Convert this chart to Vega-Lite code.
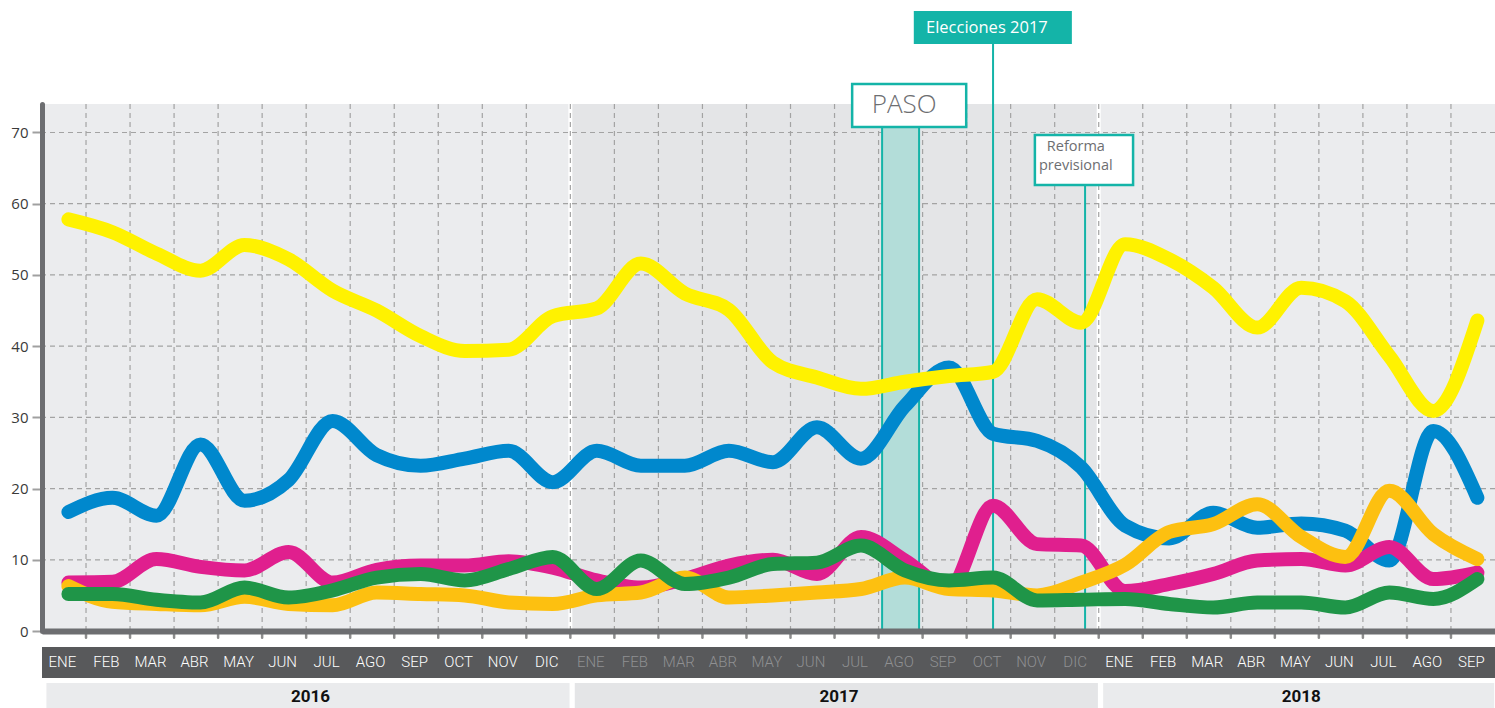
{
  "$schema": "https://vega.github.io/schema/vega-lite/v6.json",
  "width": 1453,
  "height": 527,
  "autosize": {"type": "none"},
  "padding": {"left": 42, "top": 104, "right": 0, "bottom": 77},
  "background": "#ffffff",
  "config": {
    "view": {"stroke": null},
    "axisY": {"tickCount": 8, "labelFont": "Open Sans", "labelFontSize": 15, "labelColor": "#3a3a3a", "tickColor": "#a0a0a0", "tickSize": 10, "tickWidth": 2, "domainColor": "#6d6e71", "domainWidth": 5, "domainCap": "round", "labelPadding": 4, "zindex": 1, "grid": false},
    "axisX": {"labels": false, "ticks": false, "grid": false, "domainColor": "#6d6e71", "domainWidth": 6, "zindex": 1}
  },
  "datasets": {
    "meses": [
      {"m": 0, "mes": "ENE", "anio": "2016"}, {"m": 1, "mes": "FEB", "anio": "2016"}, {"m": 2, "mes": "MAR", "anio": "2016"}, {"m": 3, "mes": "ABR", "anio": "2016"}, {"m": 4, "mes": "MAY", "anio": "2016"}, {"m": 5, "mes": "JUN", "anio": "2016"}, {"m": 6, "mes": "JUL", "anio": "2016"}, {"m": 7, "mes": "AGO", "anio": "2016"}, {"m": 8, "mes": "SEP", "anio": "2016"}, {"m": 9, "mes": "OCT", "anio": "2016"}, {"m": 10, "mes": "NOV", "anio": "2016"}, {"m": 11, "mes": "DIC", "anio": "2016"},
      {"m": 12, "mes": "ENE", "anio": "2017"}, {"m": 13, "mes": "FEB", "anio": "2017"}, {"m": 14, "mes": "MAR", "anio": "2017"}, {"m": 15, "mes": "ABR", "anio": "2017"}, {"m": 16, "mes": "MAY", "anio": "2017"}, {"m": 17, "mes": "JUN", "anio": "2017"}, {"m": 18, "mes": "JUL", "anio": "2017"}, {"m": 19, "mes": "AGO", "anio": "2017"}, {"m": 20, "mes": "SEP", "anio": "2017"}, {"m": 21, "mes": "OCT", "anio": "2017"}, {"m": 22, "mes": "NOV", "anio": "2017"}, {"m": 23, "mes": "DIC", "anio": "2017"},
      {"m": 24, "mes": "ENE", "anio": "2018"}, {"m": 25, "mes": "FEB", "anio": "2018"}, {"m": 26, "mes": "MAR", "anio": "2018"}, {"m": 27, "mes": "ABR", "anio": "2018"}, {"m": 28, "mes": "MAY", "anio": "2018"}, {"m": 29, "mes": "JUN", "anio": "2018"}, {"m": 30, "mes": "JUL", "anio": "2018"}, {"m": 31, "mes": "AGO", "anio": "2018"}, {"m": 32, "mes": "SEP", "anio": "2018"}
    ],
    "encuesta": [
      {"m":0,"serie":"Azul","v":16.7},{"m":1,"serie":"Azul","v":18.7},{"m":2,"serie":"Azul","v":16.2},{"m":3,"serie":"Azul","v":26.2},{"m":4,"serie":"Azul","v":18.3},{"m":5,"serie":"Azul","v":21.2},{"m":6,"serie":"Azul","v":29.5},{"m":7,"serie":"Azul","v":24.7},{"m":8,"serie":"Azul","v":23.2},{"m":9,"serie":"Azul","v":24.2},{"m":10,"serie":"Azul","v":25.3},{"m":11,"serie":"Azul","v":20.9},{"m":12,"serie":"Azul","v":25.3},{"m":13,"serie":"Azul","v":23.2},{"m":14,"serie":"Azul","v":23.2},{"m":15,"serie":"Azul","v":25.3},{"m":16,"serie":"Azul","v":23.7},{"m":17,"serie":"Azul","v":28.6},{"m":18,"serie":"Azul","v":24.2},{"m":19,"serie":"Azul","v":31.6},{"m":20,"serie":"Azul","v":37.0},{"m":21,"serie":"Azul","v":27.7},{"m":22,"serie":"Azul","v":26.7},{"m":23,"serie":"Azul","v":23.0},{"m":24,"serie":"Azul","v":14.8},{"m":25,"serie":"Azul","v":13.0},{"m":26,"serie":"Azul","v":16.6},{"m":27,"serie":"Azul","v":14.5},{"m":28,"serie":"Azul","v":15.1},{"m":29,"serie":"Azul","v":14.1},{"m":30,"serie":"Azul","v":9.9},{"m":31,"serie":"Azul","v":28.1},{"m":32,"serie":"Azul","v":18.7},
      {"m":0,"serie":"Amarillo","v":57.8},{"m":1,"serie":"Amarillo","v":56.0},{"m":2,"serie":"Amarillo","v":53.0},{"m":3,"serie":"Amarillo","v":50.6},{"m":4,"serie":"Amarillo","v":54.2},{"m":5,"serie":"Amarillo","v":52.2},{"m":6,"serie":"Amarillo","v":47.8},{"m":7,"serie":"Amarillo","v":45.0},{"m":8,"serie":"Amarillo","v":41.4},{"m":9,"serie":"Amarillo","v":39.3},{"m":10,"serie":"Amarillo","v":39.5},{"m":11,"serie":"Amarillo","v":44.2},{"m":12,"serie":"Amarillo","v":45.3},{"m":13,"serie":"Amarillo","v":51.6},{"m":14,"serie":"Amarillo","v":47.4},{"m":15,"serie":"Amarillo","v":45.1},{"m":16,"serie":"Amarillo","v":37.7},{"m":17,"serie":"Amarillo","v":35.6},{"m":18,"serie":"Amarillo","v":34.0},{"m":19,"serie":"Amarillo","v":35.0},{"m":20,"serie":"Amarillo","v":35.8},{"m":21,"serie":"Amarillo","v":36.4},{"m":22,"serie":"Amarillo","v":46.6},{"m":23,"serie":"Amarillo","v":43.3},{"m":24,"serie":"Amarillo","v":54.3},{"m":25,"serie":"Amarillo","v":52.2},{"m":26,"serie":"Amarillo","v":48.2},{"m":27,"serie":"Amarillo","v":42.6},{"m":28,"serie":"Amarillo","v":48.2},{"m":29,"serie":"Amarillo","v":46.3},{"m":30,"serie":"Amarillo","v":38.6},{"m":31,"serie":"Amarillo","v":30.9},{"m":32,"serie":"Amarillo","v":43.6},
      {"m":0,"serie":"Magenta","v":6.8},{"m":1,"serie":"Magenta","v":6.9},{"m":2,"serie":"Magenta","v":10.1},{"m":3,"serie":"Magenta","v":9.0},{"m":4,"serie":"Magenta","v":8.5},{"m":5,"serie":"Magenta","v":11.1},{"m":6,"serie":"Magenta","v":6.8},{"m":7,"serie":"Magenta","v":8.6},{"m":8,"serie":"Magenta","v":9.2},{"m":9,"serie":"Magenta","v":9.2},{"m":10,"serie":"Magenta","v":9.8},{"m":11,"serie":"Magenta","v":8.9},{"m":12,"serie":"Magenta","v":7.1},{"m":13,"serie":"Magenta","v":6.1},{"m":14,"serie":"Magenta","v":7.3},{"m":15,"serie":"Magenta","v":9.2},{"m":16,"serie":"Magenta","v":10.0},{"m":17,"serie":"Magenta","v":8.0},{"m":18,"serie":"Magenta","v":13.2},{"m":19,"serie":"Magenta","v":9.9},{"m":20,"serie":"Magenta","v":6.1},{"m":21,"serie":"Magenta","v":17.6},{"m":22,"serie":"Magenta","v":12.2},{"m":23,"serie":"Magenta","v":12.0},{"m":24,"serie":"Magenta","v":5.6},{"m":25,"serie":"Magenta","v":6.6},{"m":26,"serie":"Magenta","v":8.0},{"m":27,"serie":"Magenta","v":9.9},{"m":28,"serie":"Magenta","v":10.1},{"m":29,"serie":"Magenta","v":9.2},{"m":30,"serie":"Magenta","v":11.8},{"m":31,"serie":"Magenta","v":7.3},{"m":32,"serie":"Magenta","v":8.2},
      {"m":0,"serie":"Naranja","v":6.3},{"m":1,"serie":"Naranja","v":4.1},{"m":2,"serie":"Naranja","v":3.8},{"m":3,"serie":"Naranja","v":3.6},{"m":4,"serie":"Naranja","v":4.8},{"m":5,"serie":"Naranja","v":3.8},{"m":6,"serie":"Naranja","v":3.6},{"m":7,"serie":"Naranja","v":5.4},{"m":8,"serie":"Naranja","v":5.2},{"m":9,"serie":"Naranja","v":5.0},{"m":10,"serie":"Naranja","v":4.0},{"m":11,"serie":"Naranja","v":3.8},{"m":12,"serie":"Naranja","v":5.0},{"m":13,"serie":"Naranja","v":5.4},{"m":14,"serie":"Naranja","v":7.5},{"m":15,"serie":"Naranja","v":4.7},{"m":16,"serie":"Naranja","v":5.0},{"m":17,"serie":"Naranja","v":5.4},{"m":18,"serie":"Naranja","v":5.9},{"m":19,"serie":"Naranja","v":7.5},{"m":20,"serie":"Naranja","v":5.9},{"m":21,"serie":"Naranja","v":5.7},{"m":22,"serie":"Naranja","v":5.0},{"m":23,"serie":"Naranja","v":6.8},{"m":24,"serie":"Naranja","v":9.3},{"m":25,"serie":"Naranja","v":13.9},{"m":26,"serie":"Naranja","v":15.0},{"m":27,"serie":"Naranja","v":17.8},{"m":28,"serie":"Naranja","v":13.2},{"m":29,"serie":"Naranja","v":10.4},{"m":30,"serie":"Naranja","v":19.7},{"m":31,"serie":"Naranja","v":13.6},{"m":32,"serie":"Naranja","v":10.1},
      {"m":0,"serie":"Verde","v":5.2},{"m":1,"serie":"Verde","v":5.2},{"m":2,"serie":"Verde","v":4.4},{"m":3,"serie":"Verde","v":4.0},{"m":4,"serie":"Verde","v":6.1},{"m":5,"serie":"Verde","v":4.7},{"m":6,"serie":"Verde","v":5.7},{"m":7,"serie":"Verde","v":7.5},{"m":8,"serie":"Verde","v":8.0},{"m":9,"serie":"Verde","v":7.1},{"m":10,"serie":"Verde","v":8.7},{"m":11,"serie":"Verde","v":10.4},{"m":12,"serie":"Verde","v":5.9},{"m":13,"serie":"Verde","v":9.9},{"m":14,"serie":"Verde","v":6.6},{"m":15,"serie":"Verde","v":7.5},{"m":16,"serie":"Verde","v":9.4},{"m":17,"serie":"Verde","v":9.6},{"m":18,"serie":"Verde","v":12.0},{"m":19,"serie":"Verde","v":8.5},{"m":20,"serie":"Verde","v":7.1},{"m":21,"serie":"Verde","v":7.5},{"m":22,"serie":"Verde","v":4.3},{"m":23,"serie":"Verde","v":4.4},{"m":24,"serie":"Verde","v":4.5},{"m":25,"serie":"Verde","v":3.8},{"m":26,"serie":"Verde","v":3.3},{"m":27,"serie":"Verde","v":4.0},{"m":28,"serie":"Verde","v":4.0},{"m":29,"serie":"Verde","v":3.3},{"m":30,"serie":"Verde","v":5.4},{"m":31,"serie":"Verde","v":4.5},{"m":32,"serie":"Verde","v":7.3}
    ]
  },
  "layer": [
    {
      "data": {"name": "meses"},
      "transform": [{"aggregate": [{"op": "min", "field": "m", "as": "ini"}, {"op": "max", "field": "m", "as": "fin"}], "groupby": ["anio"]}],
      "mark": {"type": "rect", "xOffset": -26.4, "x2Offset": 17.6},
      "encoding": {
        "x": {"field": "ini", "type": "quantitative", "title": null},
        "x2": {"field": "fin"},
        "y": {"datum": 0},
        "y2": {"datum": 74},
        "color": {"condition": {"test": "datum.anio === '2017'", "value": "#e4e5e7"}, "value": "#ebecee"}
      }
    },
    {
      "data": {"name": "meses"},
      "transform": [{"filter": "datum.m === 11 || datum.m === 23"}],
      "mark": {"type": "rule", "xOffset": 17.6, "color": "#ffffff", "strokeWidth": 4},
      "encoding": {"x": {"field": "m", "type": "quantitative", "title": null}}
    },
    {
      "data": {"name": "meses"},
      "transform": [{"filter": "datum.m < 32"}],
      "mark": {"type": "rule", "xOffset": 17.6, "color": "#a3a3a3", "strokeWidth": 1.2, "strokeDash": [5, 4]},
      "encoding": {"x": {"field": "m", "type": "quantitative", "title": null}}
    },
    {
      "data": {"values": [{"v": 10}, {"v": 20}, {"v": 30}, {"v": 40}, {"v": 50}, {"v": 60}, {"v": 70}]},
      "mark": {"type": "rule", "color": "#a3a3a3", "strokeWidth": 1.2, "strokeDash": [5, 4]},
      "encoding": {"y": {"field": "v", "type": "quantitative", "title": null}}
    },
    {
      "data": {"values": [{"evento": "PASO"}]},
      "mark": {"type": "rect", "fill": "#b3ddd9", "stroke": "#14b4a8", "strokeWidth": 2},
      "encoding": {"x": {"datum": 18.48}, "x2": {"datum": 19.32}, "y": {"datum": 0}, "y2": {"datum": 70.77}}
    },
    {
      "data": {"values": [{"evento": "Elecciones 2017"}]},
      "mark": {"type": "rule", "color": "#14b4a8", "strokeWidth": 2},
      "encoding": {"x": {"datum": 21.0}, "y": {"datum": 0}, "y2": {"datum": 82.42}}
    },
    {
      "data": {"values": [{"evento": "Reforma previsional"}]},
      "mark": {"type": "rule", "color": "#14b4a8", "strokeWidth": 2},
      "encoding": {"x": {"datum": 23.09}, "y": {"datum": 0}, "y2": {"datum": 62.62}}
    },
    {
      "data": {"values": [{"evento": "PASO"}]},
      "mark": {"type": "rect", "fill": "#ffffff", "stroke": "#14b4a8", "strokeWidth": 2.5},
      "encoding": {"x": {"datum": 17.8}, "x2": {"datum": 20.39}, "y": {"datum": 70.77}, "y2": {"datum": 76.8}}
    },
    {
      "data": {"values": [{"evento": "PASO"}]},
      "mark": {"type": "text", "font": "Open Sans", "fontSize": 26, "fontWeight": 300, "color": "#6d6e71", "align": "center", "baseline": "middle"},
      "encoding": {"x": {"datum": 18.98}, "y": {"datum": 73.79}, "text": {"field": "evento"}}
    },
    {
      "data": {"values": [{"evento": "Elecciones 2017"}]},
      "mark": {"type": "rect", "fill": "#14b4a8"},
      "encoding": {"x": {"datum": 19.2}, "x2": {"datum": 22.79}, "y": {"datum": 82.42}, "y2": {"datum": 87.05}}
    },
    {
      "data": {"values": [{"evento": "Elecciones 2017"}]},
      "mark": {"type": "text", "font": "Open Sans", "fontSize": 16.5, "color": "#ffffff", "align": "center", "baseline": "middle"},
      "encoding": {"x": {"datum": 20.86}, "y": {"datum": 84.67}, "text": {"field": "evento"}}
    },
    {
      "data": {"values": [{"evento": "Reforma previsional"}]},
      "mark": {"type": "rect", "fill": "#ffffff", "stroke": "#14b4a8", "strokeWidth": 2.5},
      "encoding": {"x": {"datum": 21.95}, "x2": {"datum": 24.18}, "y": {"datum": 62.62}, "y2": {"datum": 69.64}}
    },
    {
      "data": {"values": [{"evento": "Reforma\nprevisional"}]},
      "mark": {"type": "text", "font": "Open Sans", "fontSize": 14.5, "color": "#6d6e71", "align": "center", "baseline": "middle", "lineBreak": "\n", "lineHeight": 19},
      "encoding": {"x": {"datum": 22.88}, "y": {"datum": 67.96}, "text": {"field": "evento"}}
    },
    {
      "data": {"name": "encuesta"},
      "mark": {"type": "line", "strokeWidth": 14, "strokeCap": "round", "strokeJoin": "round", "interpolate": "monotone"},
      "encoding": {
        "x": {"field": "m", "type": "quantitative", "title": null, "scale": {"domain": [-0.6, 32.4], "nice": false, "zero": false}, "axis": {"labels": false, "ticks": false, "grid": false, "domainColor": "#6d6e71", "domainWidth": 6, "zindex": 1}},
        "y": {"field": "v", "type": "quantitative", "title": null, "scale": {"domain": [0, 74], "nice": false}, "axis": {"values": [0, 10, 20, 30, 40, 50, 60, 70], "grid": false, "labelFont": "Open Sans", "labelFontSize": 15, "labelColor": "#3a3a3a", "tickColor": "#a0a0a0", "tickSize": 10, "tickWidth": 2, "domainColor": "#6d6e71", "domainWidth": 5, "domainCap": "round", "labelPadding": 4, "zindex": 1}},
        "color": {"field": "serie", "type": "nominal", "legend": null, "scale": {"domain": ["Azul", "Amarillo", "Magenta", "Naranja", "Verde"], "range": ["#0088cd", "#fff200", "#e01f8e", "#fdc010", "#1f9548"]}}
      }
    },
    {
      "data": {"values": [{"barra": "meses"}]},
      "mark": {"type": "rect", "fill": "#58595b"},
      "encoding": {"x": {"datum": -0.6}, "x2": {"datum": 32.4}, "y": {"datum": -2.25}, "y2": {"datum": -6.6}}
    },
    {
      "data": {"name": "meses"},
      "mark": {"type": "text", "font": "Roboto", "fontSize": 15, "fontWeight": 300, "dx": -6, "align": "center", "baseline": "middle"},
      "encoding": {
        "x": {"field": "m", "type": "quantitative", "title": null},
        "y": {"datum": -4.35},
        "text": {"field": "mes"},
        "color": {"condition": {"test": "datum.anio === '2017'", "value": "#8f9092"}, "value": "#ffffff"}
      }
    },
    {
      "data": {"name": "meses"},
      "transform": [{"aggregate": [{"op": "min", "field": "m", "as": "ini"}, {"op": "max", "field": "m", "as": "fin"}], "groupby": ["anio"]}],
      "mark": {"type": "rect", "xOffset": -22, "x2Offset": 16.8},
      "encoding": {
        "x": {"field": "ini", "type": "quantitative", "title": null},
        "x2": {"field": "fin"},
        "y": {"datum": -7.3},
        "y2": {"datum": -11},
        "color": {"condition": {"test": "datum.anio === '2017'", "value": "#e4e5e7"}, "value": "#eaebed"}
      }
    },
    {
      "data": {"name": "meses"},
      "transform": [{"aggregate": [{"op": "mean", "field": "m", "as": "centro"}], "groupby": ["anio"]}],
      "mark": {"type": "text", "font": "Roboto", "fontSize": 17, "fontWeight": "bold", "color": "#111111", "align": "center", "baseline": "middle"},
      "encoding": {
        "x": {"field": "centro", "type": "quantitative", "title": null},
        "y": {"datum": -9.27},
        "text": {"field": "anio"}
      }
    },
    {
      "data": {"name": "meses"},
      "transform": [{"filter": "datum.m < 32"}],
      "mark": {"type": "rule", "xOffset": 17.6, "color": "#8c8c8c", "strokeWidth": 2.5, "strokeCap": "round"},
      "encoding": {"x": {"field": "m", "type": "quantitative", "title": null}, "y": {"datum": -0.1}, "y2": {"datum": -0.95}}
    }
  ]
}
